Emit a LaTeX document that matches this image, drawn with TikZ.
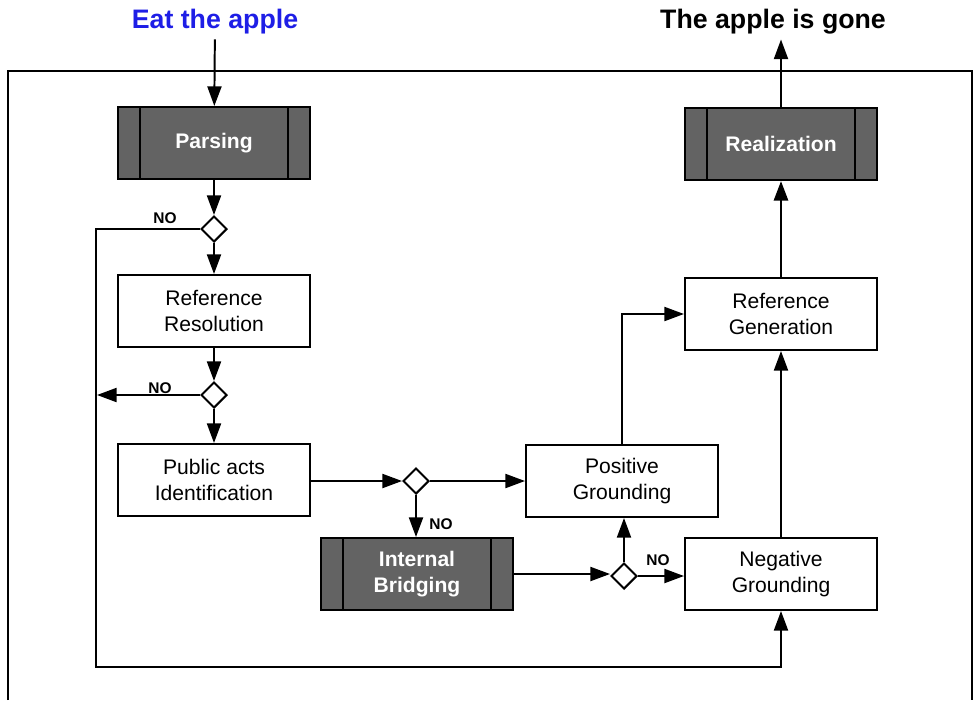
\documentclass[tikz,border=0pt]{standalone}
\usepackage{fontspec}
\setmainfont{Liberation Sans}
\usetikzlibrary{arrows.meta, positioning, calc, shapes.geometric}
\definecolor{procgray}{RGB}{99,99,99}
\definecolor{titleblue}{RGB}{30,30,230}

\begin{document}
\begin{tikzpicture}[x=0.025cm, y=-0.025cm, >={Triangle[length=14pt,width=10pt]},
    font=\fontsize{15}{18}\selectfont,
    flowbox/.style={draw, line width=1.4pt, fill=white, minimum width=4.8cm, minimum height=1.8cm, align=center},
    procbox/.style={flowbox, fill=procgray, text=white, font=\fontsize{15}{18}\selectfont\bfseries,
        path picture={
            \draw[line width=1.4pt] ([xshift=0.55cm]path picture bounding box.north west) -- ([xshift=0.55cm]path picture bounding box.south west);
            \draw[line width=1.4pt] ([xshift=-0.55cm]path picture bounding box.north east) -- ([xshift=-0.55cm]path picture bounding box.south east);
        }},
    decision/.style={draw, diamond, line width=1.4pt, fill=white, minimum width=0.65cm, minimum height=0.65cm, inner sep=0pt},
    flow/.style={->, line width=1.4pt},
    nolabel/.style={font=\fontsize{11}{13}\selectfont\bfseries},
    title/.style={font=\fontsize{19}{22}\selectfont\bfseries}]
    \useasboundingbox (0,0) rectangle (980,700);

    % outer frame, open at the bottom
    \draw[line width=0.8pt] (8,700) -- (8,71) -- (972,71) -- (972,700);

    % input and output texts
    \node[title, text=titleblue] (eat) at (215,22) {Eat the apple};
    \node[title] (gone) at (773,22) {The apple is gone};

    % left column
    \node[procbox] (parsing) at (214,143) {Parsing};
    \node[decision] (d1) at (214,229) {};
    \node[flowbox] (refres) at (214,311) {Reference\\Resolution};
    \node[decision] (d2) at (214,395) {};
    \node[flowbox] (pubacts) at (214,480) {Public acts\\Identification};

    % middle
    \node[decision] (d3) at (416,481) {};
    \node[procbox] (bridging) at (417,574) {Internal\\Bridging};
    \node[flowbox] (posgr) at (622,481) {Positive\\Grounding};
    \node[decision] (d4) at (624,576) {};

    % right column
    \node[procbox] (realiz) at (781,144) {Realization};
    \node[flowbox] (refgen) at (781,314) {Reference\\Generation};
    \node[flowbox] (neggr) at (781,574) {Negative\\Grounding};

    \coordinate (loopleft) at (96,667);
    \coordinate (d2out) at (97,395);

    % arrows
    \draw[flow] (eat) -- (parsing);
    \draw[flow] (parsing) -- (d1);
    \draw[flow] (d1) -- (refres);
    \draw[flow] (d1.west) -| (loopleft) -| (neggr.south);
    \node[nolabel] at (165,218) {NO};
    \draw[flow] (refres) -- (d2);
    \draw[flow] (d2) -- (pubacts);
    \draw[flow] (d2.west) -- (d2out);
    \node[nolabel] at (160,388) {NO};

    \draw[flow] (pubacts.east |- d3.west) -- (d3.west);
    \draw[flow] (d3.east) -- (posgr.west);
    \draw[flow] (d3.south) -- (d3.south |- bridging.north);
    \node[nolabel] at (441,524) {NO};

    \draw[flow] (bridging.east) -- (bridging.east -| d4.west);
    \draw[flow] (d4.north) -- (d4.north |- posgr.south);
    \draw[flow] (d4.east) -- (neggr.west |- d4.east);
    \node[nolabel] at (658,560) {NO};

    \draw[flow] (posgr.north) |- (refgen.west);
    \draw[flow] (neggr) -- (refgen);
    \draw[flow, line width=2pt] (refgen) -- (realiz);
    \draw[flow] (realiz) -- (realiz.north |- gone.south);
\end{tikzpicture}
\end{document}
